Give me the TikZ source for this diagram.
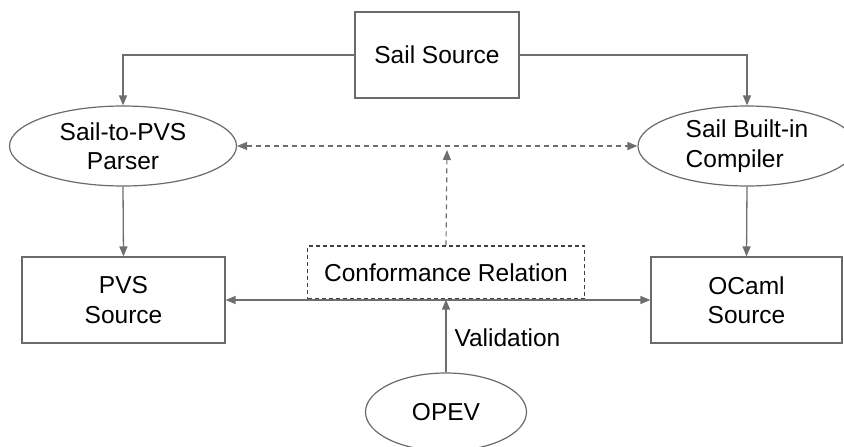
\documentclass[tikz,border=0pt]{standalone}
\usepackage{fontspec}
\setmainfont{Liberation Sans}
\usetikzlibrary{arrows.meta,shapes.geometric}
\definecolor{linegray}{HTML}{6E6E6E}
\definecolor{framegray}{HTML}{6A6A6A}
\begin{document}
\begin{tikzpicture}[x=1pt,y=-1pt,
  every node/.style={font=\fontsize{24.5}{29.5}\selectfont, align=center, text=black},
  box/.style={draw=framegray, line width=1.2pt, rectangle, inner sep=0pt},
  dbox/.style={draw=black!75, line width=1.1pt, dashed, dash pattern=on 4pt off 3pt, rectangle, inner sep=0pt},
  oval/.style={draw=framegray, line width=1.2pt, ellipse, inner sep=0pt},
  conn/.style={draw=linegray, line width=1.3pt, -{Triangle[length=10pt,width=8pt]}},
  biconn/.style={draw=linegray, line width=1.3pt, {Triangle[length=10pt,width=8pt]}-{Triangle[length=10pt,width=8pt]}},
  dconn/.style={draw=linegray, line width=1.2pt, dash pattern=on 5pt off 4pt}
]
\useasboundingbox (0,0) rectangle (844,447);
\clip (0,0) rectangle (844,447);

% nodes
\node[box, minimum width=164pt, minimum height=86pt] (sail) at (437,55) {Sail Source};
\node[oval, minimum width=227pt, minimum height=80pt] (parser) at (123,146) {Sail-to-PVS\\Parser};
\node[oval, minimum width=218pt, minimum height=80pt, align=left] (compiler) at (747,146) {Sail Built-in\\Compiler};
\node[box, minimum width=203pt, minimum height=86pt] (pvs) at (123.5,300) {PVS\\Source};
\node[box, minimum width=191pt, minimum height=86pt] (ocaml) at (746.5,300) {OCaml\\Source};
\node[dbox, minimum width=277pt, minimum height=53pt] (conf) at (446,272.5) {Conformance Relation};
\node[oval, minimum width=161pt, minimum height=78pt] (opev) at (446,412) {OPEV};
\node[anchor=west] (valid) at (451,338) {Validation};

\coordinate (relTip) at (447,150);

% connectors
\draw[conn] (sail.west) -| (parser.north);
\draw[conn] (sail.east) -| (compiler.north);
\draw[conn] (parser.south) -- (pvs.north);
\draw[conn] (compiler.south) -- (ocaml.north);
\draw[biconn] (pvs.east) -- (ocaml.west);
\draw[conn] (opev.north) -- (conf.south);
\draw[dconn, {Triangle[length=10pt,width=8pt]}-{Triangle[length=10pt,width=8pt]}] (parser.east) -- (compiler.west);
\draw[dconn, -{Triangle[length=10pt,width=8pt]}] (conf.north) -- (relTip);
\end{tikzpicture}
\end{document}
